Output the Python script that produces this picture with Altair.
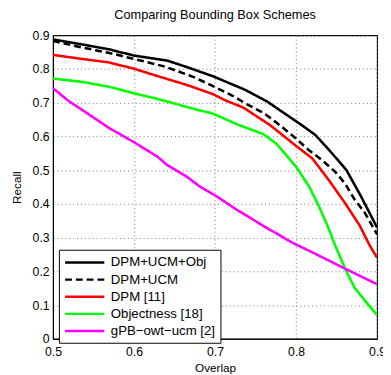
import altair as alt
import pandas as pd

series_names = ["DPM+UCM+Obj", "DPM+UCM", "DPM [11]", "Objectness [18]", "gPB\u2212owt\u2212ucm [2]"]
series_colors = ["#000000", "#000000", "#ff0000", "#00ff00", "#ff00ff"]
series_dashes = [[1, 0], [7, 4], [1, 0], [1, 0], [1, 0]]

black_x = [0.5, 0.536, 0.568, 0.6, 0.641, 0.665, 0.697, 0.7375, 0.764, 0.808, 0.824, 0.840, 0.862, 0.880, 0.9]
black_y = [0.888, 0.873, 0.859, 0.840, 0.825, 0.806, 0.779, 0.738, 0.704, 0.632, 0.604, 0.562, 0.501, 0.423, 0.33]

dashed_x = [0.5, 0.536, 0.576, 0.6, 0.637, 0.673, 0.703, 0.723, 0.7395, 0.7596, 0.776, 0.798, 0.816, 0.832, 0.848, 0.860, 0.872, 0.8845, 0.9]
dashed_y = [0.883, 0.864, 0.844, 0.830, 0.808, 0.777, 0.743, 0.719, 0.695, 0.670, 0.641, 0.598, 0.559, 0.530, 0.496, 0.462, 0.414, 0.375, 0.31]

red_x = [0.5, 0.536, 0.568, 0.6, 0.625, 0.665, 0.697, 0.711, 0.7354, 0.7677, 0.800, 0.820, 0.840, 0.860, 0.8785, 0.8906, 0.9]
red_y = [0.842, 0.830, 0.820, 0.801, 0.782, 0.753, 0.726, 0.709, 0.685, 0.634, 0.572, 0.535, 0.472, 0.404, 0.336, 0.278, 0.240]

green_x = [0.5, 0.536, 0.568, 0.6, 0.633, 0.669, 0.697, 0.7274, 0.7596, 0.776, 0.800, 0.816, 0.828, 0.838, 0.848, 0.860, 0.872, 0.8865, 0.9]
green_y = [0.772, 0.762, 0.748, 0.728, 0.709, 0.685, 0.668, 0.636, 0.607, 0.578, 0.510, 0.452, 0.394, 0.340, 0.278, 0.211, 0.152, 0.109, 0.070]

magenta_x = [0.5, 0.520, 0.544, 0.568, 0.6, 0.629, 0.641, 0.665, 0.681, 0.701, 0.7254, 0.7616, 0.797, 0.818, 0.858, 0.9]
magenta_y = [0.743, 0.704, 0.666, 0.627, 0.583, 0.540, 0.515, 0.481, 0.452, 0.424, 0.385, 0.332, 0.283, 0.259, 0.211, 0.162]

x_ticks = [0.5, 0.6, 0.7, 0.8, 0.9]
y_ticks = [0, 0.1, 0.2, 0.3, 0.4, 0.5, 0.6, 0.7, 0.8, 0.9]

rows = []
for name, xs, ys in zip(series_names,
                        [black_x, dashed_x, red_x, green_x, magenta_x],
                        [black_y, dashed_y, red_y, green_y, magenta_y]):
    for i, (xv, yv) in enumerate(zip(xs, ys)):
        rows.append({"series": name, "overlap": xv, "recall": yv, "order": i})
df = pd.DataFrame(rows)

FONT = "Liberation Sans"

legend = alt.Legend(title=None, orient="none", legendX=6, legendY=219,
                    symbolType="M-1,0H5", symbolSize=178, symbolStrokeWidth=2.5,
                    labelFontSize=13.5, labelFont=FONT, labelColor="#000000",
                    strokeColor="#000000", fillColor="#ffffff", padding=5,
                    rowPadding=2.5, labelOffset=32)

chart = alt.Chart(df).mark_line(strokeWidth=2.6, clip=True).encode(
    x=alt.X("overlap:Q", title="Overlap",
            scale=alt.Scale(domain=[0.5, 0.9], nice=False, zero=False),
            axis=alt.Axis(values=x_ticks, format=".1f", labelFontSize=12.5, titleFontSize=12,
                          titleFontWeight="normal", titlePadding=5, labelPadding=7,
                          tickSize=0, grid=True, gridDash=[1, 3], gridColor="#777777",
                          domainColor="#000000", labelColor="#000000", titleColor="#000000",
                          labelFlush=False)),
    y=alt.Y("recall:Q", title="Recall",
            scale=alt.Scale(domain=[0, 0.9], nice=False),
            axis=alt.Axis(values=y_ticks, labelExpr="datum.value == 0 ? '0' : format(datum.value, '.1f')",
                          labelFontSize=12.5, titleFontSize=12, titleFontWeight="normal",
                          titlePadding=9, labelPadding=4, tickSize=0, grid=True, gridDash=[1, 3],
                          gridColor="#777777", domainColor="#000000", labelColor="#000000",
                          titleColor="#000000")),
    color=alt.Color("series:N", sort=series_names,
                    scale=alt.Scale(domain=series_names, range=series_colors),
                    legend=legend),
    strokeDash=alt.StrokeDash("series:N", sort=series_names,
                              scale=alt.Scale(domain=series_names, range=series_dashes),
                              legend=legend),
    order="order:Q",
).properties(
    width=331, height=310,
    title=alt.TitleParams("Comparing Bounding Box Schemes", fontSize=13, fontWeight="normal",
                          font=FONT, color="#000000", offset=8, anchor="middle"),
    padding={"left": 46, "top": 24, "right": 6, "bottom": 33},
    autosize=alt.AutoSizeParams(type="none"),
).configure(font=FONT).configure_view(stroke="#000000", strokeWidth=1.2)

chart.save("out.html", embed_options={"renderer": "svg", "actions": False})
